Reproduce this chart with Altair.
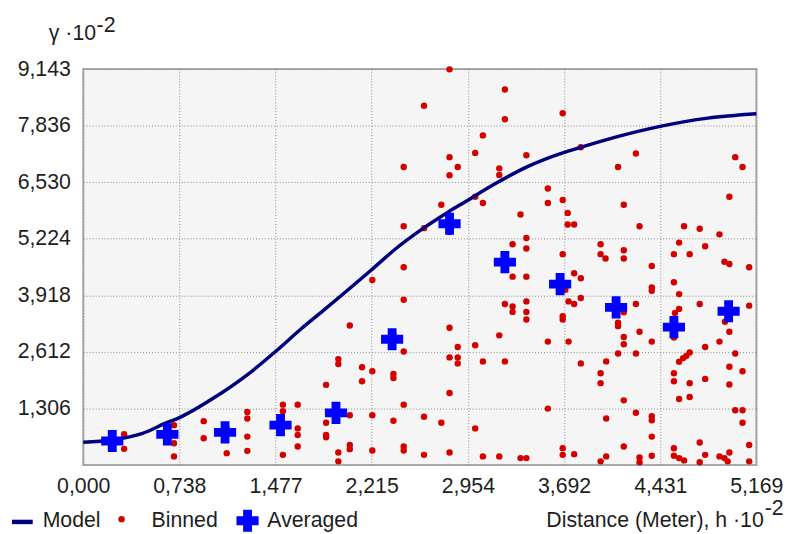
import altair as alt
import pandas as pd

FONT = "Liberation Sans"
FS = 21.5
TXT = "#1e1e1e"

# axis ticks (10^-2 units)
x_ticks = [0.0, 0.738, 1.477, 2.215, 2.954, 3.692, 4.431, 5.169]
y_ticks = [1.306, 2.612, 3.918, 5.224, 6.530, 7.836, 9.143]

# fitted model curve
model_h = [0.0, 0.223, 0.456, 0.646, 0.735, 1.013, 1.267, 1.482, 1.672, 1.845,
           2.212, 2.402, 2.613, 2.807, 2.934, 3.149, 3.403, 3.682, 3.821, 4.074,
           4.430, 4.797, 5.169]
model_gamma = [0.526, 0.578, 0.731, 0.983, 1.09, 1.57, 2.10, 2.635, 3.14, 3.57,
               4.503, 5.0, 5.47, 5.85, 6.08, 6.47, 6.88, 7.21, 7.337, 7.56,
               7.82, 8.01, 8.11]

# averaged semivariance per lag
avg_h = [0.223, 0.646, 1.089, 1.515, 1.941, 2.372, 2.813, 3.238, 3.662, 4.092, 4.536, 4.956]
avg_gamma = [0.555, 0.709, 0.754, 0.921, 1.205, 2.903, 5.570, 4.686, 4.176, 3.641, 3.184, 3.550]

# binned semivariance (empirical cloud)
bin_h = (
    [0.314] * 2 + [0.697] * 3 + [0.925] * 2 + [1.102] * 2 + [1.260] * 4 +
    [1.533] * 3 + [1.647] * 4 + [1.865] * 4 + [1.959] * 4 + [2.047] * 4 +
    [2.141] * 2 + [2.220] * 4 + [2.382] * 4 + [2.461] * 8 + [2.617] * 4 +
    [2.750] * 2 + [2.813] * 8 + [2.876] * 4 + [3.010] * 4 + [3.069] * 4 +
    [3.195] * 4 + [3.238] * 4 + [3.297] * 4 + [3.358] * 2 + [3.403] * 8 +
    [3.568] * 4 + [3.682] * 7 + [3.702] * 1 + [3.720] * 2 + [3.727] * 2 +
    [3.770] * 4 + [3.821] * 4 + [3.973] * 5 + [4.011] * 1 + [4.016] * 3 +
    [4.107] * 4 + [4.151] * 8 + [4.244] * 4 + [4.272] * 4 + [4.366] * 8 +
    [4.536] * 7 + [4.544] * 1 + [4.576] * 6 + [4.607] * 1 + [4.614] * 2 +
    [4.632] * 1 + [4.657] * 4 + [4.734] * 4 + [4.776] * 4 + [4.886] * 3 +
    [4.924] * 2 + [4.928] * 1 + [4.949] * 1 + [4.962] * 6 + [5.007] * 3 +
    [5.063] * 4 + [5.114] * 4
)
bin_gamma = [
    0.709, 0.373,
    0.921, 0.503, 0.199,
    1.013, 0.617,
    0.846, 0.274,
    1.227, 1.074, 0.656, 0.327,
    1.394, 1.241, 0.235,
    1.394, 0.846, 0.693, 0.427,
    1.851, 0.976, 0.693, 0.640,
    2.446, 2.331, 0.290, 0.085,
    3.223, 1.150, 0.464, 0.366,
    2.256, 1.936,
    4.274, 2.165, 1.150, 0.336,
    3.017, 2.103, 2.011, 1.022,
    6.880, 5.515, 4.565, 3.817, 2.622, 1.394, 0.427, 0.336,
    8.297, 5.470, 1.113, 0.235,
    6.011, 0.976,
    9.136, 7.109, 6.690, 5.378, 3.170, 2.485, 1.662, 0.290,
    6.880, 2.727, 2.485, 2.347,
    7.207, 6.194, 2.766, 0.846,
    7.611, 6.050, 2.393, 0.199,
    6.850, 6.697, 2.994, 0.199,
    8.670, 7.984, 3.719, 2.393,
    5.097, 4.350, 3.664, 3.536,
    5.783, 0.160,
    7.154, 5.241, 4.999, 4.350, 3.778, 3.536, 3.360, 0.160,
    6.384, 6.050, 2.850, 1.303,
    8.121, 6.119, 4.869, 3.435, 3.360, 0.389, 0.235,
    4.046,
    5.822, 5.554,
    3.778, 2.850,
    5.554, 4.427, 3.719, 0.251,
    7.337, 4.313, 3.856, 2.347,
    5.097, 4.869, 2.119, 1.890, 0.085,
    4.770,
    2.393, 1.074, 0.199,
    6.880, 3.285, 3.207, 2.576,
    6.011, 4.960, 4.770, 3.527, 2.955, 2.789, 1.493, 0.427,
    7.193, 3.719, 2.576, 1.205,
    5.515, 3.079, 0.176, 0.062,
    4.594, 4.098, 4.023, 2.850, 1.127, 1.035, 0.656, 0.213,
    4.869, 4.222, 2.942, 2.119, 1.936, 0.389, 0.213,
    3.513,
    5.136, 3.947, 3.605, 2.384, 1.525, 0.160,
    2.469,
    5.515, 0.107,
    2.521,
    4.869, 2.599, 1.890, 1.570,
    5.456, 3.719, 0.519, 0.062,
    5.051, 2.727, 1.989, 0.235,
    5.326, 2.850, 0.199,
    4.693, 0.160,
    3.307,
    0.085,
    6.194, 4.640, 3.079, 2.270, 1.858, 0.290,
    7.109, 2.576, 1.264,
    6.880, 2.165, 1.264, 0.976,
    4.565, 3.680, 0.464, 0.085,
]

legend_labels = ["Model", "Binned", "Averaged"]
x_title = "Distance (Meter), h ·10"
y_title = "γ ·10"
exponent = "-2"

model_df = pd.DataFrame({"h": model_h, "gamma": model_gamma})
avg_df = pd.DataFrame({"h": avg_h, "gamma": avg_gamma})
bin_df = pd.DataFrame({"h": bin_h, "gamma": bin_gamma})

label_expr = "replace(format(datum.value, '.3f'), '.', ',')"
grid_style = dict(grid=True, gridDash=[1, 2], gridColor="#8c8c8c", gridWidth=1,
                  ticks=False, tickSize=0, domain=False, labelFont=FONT,
                  labelFontSize=FS, labelColor=TXT, labelOverlap=False,
                  labelFlush=False, title=None)

xs = alt.Scale(domain=[0, 5.169], nice=False, zero=False)
ys = alt.Scale(domain=[0, 9.143], nice=False, zero=False)

X = alt.X("h:Q", scale=xs, axis=alt.Axis(values=x_ticks, labelExpr=label_expr,
                                         labelPadding=11, **grid_style))
Y = alt.Y("gamma:Q", scale=ys, axis=alt.Axis(values=y_ticks, labelExpr=label_expr,
                                             labelPadding=13, **grid_style))

DOT = 42
binned = alt.Chart(bin_df).mark_circle(size=DOT, color="#d40000", opacity=1).encode(x=X, y=Y)
model = alt.Chart(model_df).mark_line(color="#00007f", strokeWidth=3.5,
                                      interpolate="monotone").encode(x=X, y=Y)
averaged = alt.Chart(avg_df).mark_point(shape="cross", filled=True, size=500,
                                        color="#0000ff", opacity=1).encode(x=X, y=Y)


def one(text=None):
    return alt.Chart(pd.DataFrame({"t": [text if text else ""]}))


def label(text, x, y, align="left", size=FS):
    return one(text).mark_text(text=text, font=FONT, fontSize=size, color=TXT,
                               align=align, baseline="alphabetic").encode(
        x=alt.value(x), y=alt.value(y))


legend_line = one().mark_rule(color="#00007f", strokeWidth=4.5).encode(
    x=alt.value(-72), x2=alt.value(-51), y=alt.value(457.5))
legend_dot = one().mark_circle(size=DOT, color="#d40000", opacity=1).encode(
    x=alt.value(38.7), y=alt.value(454.7))
legend_cross = one().mark_point(shape="cross", filled=True, size=500, color="#0000ff",
                                opacity=1).encode(x=alt.value(166), y=alt.value(456.3))

texts = [
    label(legend_labels[0], -41, 463),
    label(legend_labels[1], 69, 463),
    label(legend_labels[2], 186, 463),
    label(x_title, 687.5, 463, align="right"),
    label(exponent, 688.5, 451),
    label(y_title, 13, -29, align="right"),
    label(exponent, 13.5, -37),
]

chart = alt.layer(binned, model, averaged, legend_line, legend_dot, legend_cross,
                  *texts).properties(
    width=680, height=400,
    autosize=alt.AutoSizeParams(type="none"),
    padding={"left": 76, "top": 59, "right": 34, "bottom": 67},
    background="white",
).configure_view(fill="#f5f5f5", stroke="#a9a9a9", strokeWidth=2)

chart.save("out.html", embed_options={"renderer": "svg", "actions": False})
